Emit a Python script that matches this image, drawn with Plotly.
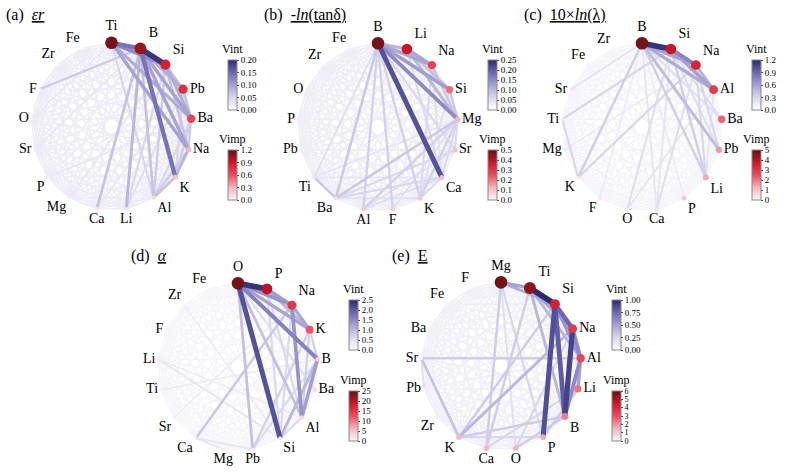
import math
import plotly.graph_objects as go
from plotly.colors import sample_colorscale

W, H = 794, 476
RX_PX, RY_PX = 80.0, 83.7   # circle radii in pixels (slightly oval in the reference)
HALF_PX = 110.0             # half size of each panel square in pixels
FONT = "Liberation Serif"

VINT_SCALE = [[0.0, "#ffffff"], [0.25, "#d9d7ec"], [0.5, "#a6a2d2"],
              [0.75, "#6d67b2"], [1.0, "#2b2970"]]
VIMP_SCALE = [[0.0, "#fff6f6"], [0.25, "#f7b3bb"], [0.5, "#ee4b5d"],
              [0.75, "#cf1528"], [1.0, "#641313"]]

# ---------------- panel (a) eps_r ----------------
A_NODES = ["Ti", "B", "Si", "Pb", "Ba", "Na", "K", "Al", "Li", "Ca", "Mg",
           "P", "Sr", "O", "F", "Zr", "Fe"]
A_VIMP = [1.15, 1.05, 0.85, 0.75, 0.65, 0.30, 0.25, 0.15, 0.10, 0.08, 0.06,
          0.05, 0.04, 0.03, 0.02, 0.01, 0.01]
A_EDGES = [("B", "Si", 0.19), ("Ti", "B", 0.14), ("Ti", "Si", 0.12),
           ("B", "K", 0.14), ("Ti", "Na", 0.10), ("Ti", "Ba", 0.09),
           ("B", "Na", 0.10), ("B", "Ba", 0.10), ("B", "Pb", 0.09),
           ("Si", "Ba", 0.09), ("Si", "Pb", 0.07), ("Pb", "Ba", 0.07),
           ("Si", "Na", 0.07), ("Na", "K", 0.08), ("K", "Al", 0.07),
           ("Na", "Al", 0.06), ("Ba", "K", 0.06), ("Ba", "Na", 0.06),
           ("Pb", "K", 0.05), ("B", "Li", 0.08), ("B", "Ca", 0.07),
           ("B", "Al", 0.07), ("Si", "Al", 0.06), ("B", "F", 0.06),
           ("Si", "Li", 0.05), ("Ti", "Al", 0.05), ("Ba", "Al", 0.05),
           ("Li", "Pb", 0.04), ("O", "Ti", 0.03), ("Sr", "B", 0.03),
           ("P", "Ba", 0.03), ("Mg", "Si", 0.03), ("Ca", "Pb", 0.03)]
A_WEAK = 0.022
A_VINT_RANGE = [0.0, 0.20]
A_VINT_TICKS = [0.00, 0.05, 0.10, 0.15, 0.20]
A_VIMP_RANGE = [0.0, 1.2]
A_VIMP_TICKS = [0.0, 0.3, 0.6, 0.9, 1.2]

# ---------------- panel (b) -ln(tan d) ----------------
B_NODES = ["B", "Li", "Na", "Si", "Mg", "Sr", "Ca", "K", "F", "Al", "Ba",
           "Ti", "Pb", "P", "O", "Zr", "Fe"]
B_VIMP = [0.48, 0.38, 0.27, 0.21, 0.12, 0.10, 0.10, 0.09, 0.08, 0.08, 0.05,
          0.04, 0.03, 0.03, 0.02, 0.01, 0.01]
B_EDGES = [("B", "Ca", 0.21), ("B", "Mg", 0.15), ("B", "Na", 0.12),
           ("B", "Si", 0.13), ("Li", "Na", 0.12), ("B", "Li", 0.10),
           ("Li", "Mg", 0.10), ("Li", "Si", 0.09), ("Na", "Mg", 0.08),
           ("Si", "Mg", 0.08), ("B", "Ba", 0.08), ("B", "Al", 0.07),
           ("B", "F", 0.07), ("B", "K", 0.07), ("B", "Ti", 0.05),
           ("B", "Sr", 0.06), ("Ti", "Ba", 0.08), ("Mg", "Ba", 0.08),
           ("Mg", "Al", 0.07), ("Mg", "K", 0.07), ("Mg", "Sr", 0.06),
           ("Mg", "Ca", 0.06), ("Sr", "Ba", 0.06), ("Ca", "Ba", 0.06),
           ("Ca", "K", 0.06), ("Na", "K", 0.06), ("Si", "K", 0.05),
           ("Li", "Ca", 0.06), ("Na", "Ca", 0.05), ("Sr", "Al", 0.05),
           ("K", "Ba", 0.05), ("Al", "Ca", 0.05), ("F", "Mg", 0.05),
           ("Ti", "Mg", 0.04), ("Ti", "Ca", 0.04)]
B_WEAK = 0.027
B_VINT_RANGE = [0.0, 0.25]
B_VINT_TICKS = [0.00, 0.05, 0.10, 0.15, 0.20, 0.25]
B_VIMP_RANGE = [0.0, 0.5]
B_VIMP_TICKS = [0.0, 0.1, 0.2, 0.3, 0.4, 0.5]

# ---------------- panel (c) 10 x ln(lambda) ----------------
C_NODES = ["B", "Si", "Na", "Al", "Ba", "Pb", "Li", "P", "Ca", "O", "F",
           "K", "Mg", "Ti", "Sr", "Fe", "Zr"]
C_VIMP = [4.8, 3.8, 3.4, 2.9, 2.2, 1.6, 1.4, 0.9, 0.4, 0.4, 0.3, 0.3, 0.3,
          0.2, 0.2, 0.1, 0.05]
C_EDGES = [("B", "Si", 1.15), ("Si", "Na", 0.75), ("B", "Na", 0.60),
           ("Si", "Al", 0.60), ("B", "Al", 0.55), ("Na", "Al", 0.50),
           ("B", "Pb", 0.45), ("B", "Li", 0.35), ("Si", "Li", 0.35),
           ("Na", "Li", 0.30), ("Na", "Pb", 0.30), ("B", "K", 0.35),
           ("Si", "Ti", 0.30), ("K", "Ti", 0.30), ("K", "Na", 0.30),
           ("B", "Ba", 0.25), ("Si", "Ba", 0.25), ("Si", "Pb", 0.25),
           ("O", "Si", 0.25), ("Ca", "Na", 0.25), ("Ca", "B", 0.20),
           ("O", "Al", 0.20), ("Ca", "Si", 0.20), ("Sr", "B", 0.20),
           ("P", "B", 0.15), ("Li", "Al", 0.20), ("Mg", "Na", 0.15),
           ("F", "B", 0.15)]
C_WEAK = 0.085
C_VINT_RANGE = [0.0, 1.2]
C_VINT_TICKS = [0.0, 0.3, 0.6, 0.9, 1.2]
C_VIMP_RANGE = [0.0, 5.0]
C_VIMP_TICKS = [0, 1, 2, 3, 4, 5]

# ---------------- panel (d) alpha ----------------
D_NODES = ["O", "P", "Na", "K", "B", "Ba", "Al", "Si", "Pb", "Mg", "Ca",
           "Sr", "Ti", "Li", "F", "Zr", "Fe"]
D_VIMP = [24.0, 20.0, 15.0, 12.0, 4.0, 3.0, 3.0, 1.5, 1.0, 1.0, 1.0, 0.8,
          0.6, 0.5, 0.5, 0.3, 0.2]
D_EDGES = [("O", "P", 2.4), ("O", "Si", 2.1), ("O", "B", 1.6),
           ("O", "Na", 1.4), ("P", "Na", 1.3), ("Na", "K", 1.2),
           ("O", "K", 1.2), ("Na", "Al", 1.4), ("B", "Al", 1.3),
           ("B", "Si", 1.0), ("P", "K", 1.0), ("O", "Al", 0.9),
           ("O", "Pb", 0.9), ("Na", "Ca", 0.8), ("K", "Pb", 0.7),
           ("K", "Al", 0.7), ("P", "Al", 0.6), ("Na", "Si", 0.6),
           ("P", "Si", 0.6), ("B", "Pb", 0.6), ("Al", "Si", 0.6),
           ("K", "B", 0.7), ("O", "Ba", 0.5), ("Li", "Si", 0.4),
           ("Li", "Al", 0.3), ("Ca", "Mg", 0.4), ("Ca", "Pb", 0.4),
           ("Zr", "Si", 0.3), ("Sr", "Na", 0.3), ("Ti", "B", 0.3)]
D_WEAK = 0.16
D_VINT_RANGE = [0.0, 2.5]
D_VINT_TICKS = [0.0, 0.5, 1.0, 1.5, 2.0, 2.5]
D_VIMP_RANGE = [0.0, 25.0]
D_VIMP_TICKS = [0, 5, 10, 15, 20, 25]

# ---------------- panel (e) E ----------------
E_NODES = ["Mg", "Ti", "Si", "Na", "Al", "Li", "B", "P", "O", "Ca", "K",
           "Zr", "Pb", "Sr", "Ba", "Fe", "F"]
E_VIMP = [5.8, 5.4, 4.2, 3.5, 3.2, 2.5, 2.3, 1.6, 1.5, 1.4, 1.4, 0.3, 0.2,
          0.2, 0.2, 0.1, 0.05]
E_EDGES = [("Ti", "Si", 1.0), ("Na", "B", 0.9), ("Si", "P", 0.85),
           ("Si", "B", 0.8), ("Si", "Na", 0.75), ("Na", "Al", 0.6),
           ("Al", "B", 0.6), ("Al", "Li", 0.5), ("Mg", "Ti", 0.5),
           ("Mg", "Si", 0.45), ("Ti", "Na", 0.5), ("Si", "Al", 0.55),
           ("Ti", "Al", 0.4), ("Ti", "B", 0.4), ("Mg", "Ca", 0.3),
           ("Sr", "K", 0.35), ("Sr", "Al", 0.3), ("K", "Na", 0.4),
           ("K", "Si", 0.3), ("Mg", "P", 0.25), ("Mg", "O", 0.2),
           ("Ti", "Ca", 0.3), ("P", "Li", 0.3), ("B", "O", 0.3),
           ("B", "K", 0.3), ("P", "K", 0.25), ("Ca", "Li", 0.25),
           ("O", "Na", 0.25), ("Sr", "Pb", 0.2)]
E_WEAK = 0.095
E_VINT_RANGE = [0.0, 1.0]
E_VINT_TICKS = [0.00, 0.25, 0.50, 0.75, 1.00]
E_VIMP_RANGE = [0.0, 6.0]
E_VIMP_TICKS = [0, 1, 2, 3, 4, 5, 6]

TITLES = ["(a)  <u><i>εr</i></u>",
          "(b)  <u><i>-ln</i>(tanδ)</u>",
          "(c)  <u>10×<i>ln</i>(λ)</u>",
          "(d)  <u><i>α</i></u>",
          "(e)  <u>E</u>"]

PANELS = [
    dict(nodes=A_NODES, vimp=A_VIMP, edges=A_EDGES, weak=A_WEAK,
         vint_rng=A_VINT_RANGE, vint_ticks=A_VINT_TICKS, vint_fmt=".2f",
         vimp_rng=A_VIMP_RANGE, vimp_ticks=A_VIMP_TICKS, vimp_fmt=".1f",
         center=(111.5, 126.5), cbx=228, cby=(60, 150), title_xy=(4, 15)),
    dict(nodes=B_NODES, vimp=B_VIMP, edges=B_EDGES, weak=B_WEAK,
         vint_rng=B_VINT_RANGE, vint_ticks=B_VINT_TICKS, vint_fmt=".2f",
         vimp_rng=B_VIMP_RANGE, vimp_ticks=B_VIMP_TICKS, vimp_fmt=".1f",
         center=(378, 127), cbx=488, cby=(60, 150), title_xy=(262, 15)),
    dict(nodes=C_NODES, vimp=C_VIMP, edges=C_EDGES, weak=C_WEAK,
         vint_rng=C_VINT_RANGE, vint_ticks=C_VINT_TICKS, vint_fmt=".1f",
         vimp_rng=C_VIMP_RANGE, vimp_ticks=C_VIMP_TICKS, vimp_fmt="d",
         center=(642, 127), cbx=752, cby=(60, 150), title_xy=(522, 15)),
    dict(nodes=D_NODES, vimp=D_VIMP, edges=D_EDGES, weak=D_WEAK,
         vint_rng=D_VINT_RANGE, vint_ticks=D_VINT_TICKS, vint_fmt=".1f",
         vimp_rng=D_VIMP_RANGE, vimp_ticks=D_VIMP_TICKS, vimp_fmt="d",
         center=(238, 367), cbx=349, cby=(300, 391), title_xy=(129, 256)),
    dict(nodes=E_NODES, vimp=E_VIMP, edges=E_EDGES, weak=E_WEAK,
         vint_rng=E_VINT_RANGE, vint_ticks=E_VINT_TICKS, vint_fmt=".2f",
         vimp_rng=E_VIMP_RANGE, vimp_ticks=E_VIMP_TICKS, vimp_fmt="d",
         center=(501, 366), cbx=612, cby=(300, 391), title_xy=(390, 256)),
]

BAR_LEN = 50
BAR_THICK = 9

fig = go.Figure()
layout = dict(width=W, height=H,
              margin=dict(l=0, r=0, t=0, b=0, pad=0, autoexpand=False),
              paper_bgcolor="white", plot_bgcolor="white", showlegend=False,
              font=dict(family=FONT, color="black"))
annotations = []


def x_axis_span(c):
    lo, hi = max(0.0, c - HALF_PX), min(float(W), c + HALF_PX)
    return [lo / W, hi / W], [(lo - c) / RX_PX, (hi - c) / RX_PX]


def y_axis_span(c):
    lo, hi = max(0.0, c - HALF_PX), min(float(H), c + HALF_PX)
    return [1 - hi / H, 1 - lo / H], [-(hi - c) / RY_PX, (c - lo) / RY_PX]


def colorbar(x_px, top_px, ticks, fmt, fsize):
    return dict(x=x_px / W, xanchor="left", xpad=0,
                y=1 - (top_px + BAR_LEN / 2) / H, yanchor="middle", ypad=0,
                len=BAR_LEN, lenmode="pixels", thickness=BAR_THICK,
                outlinewidth=1, outlinecolor="#888888",
                tickvals=ticks, tickformat=fmt, ticks="outside",
                ticklen=2, tickwidth=1, tickcolor="#444444",
                tickfont=dict(family=FONT, size=fsize))


def cb_title(text, x_px, top_px):
    return dict(text=text, x=(x_px + BAR_THICK / 2) / W, y=1 - (top_px - 2) / H,
                xref="paper", yref="paper", xanchor="center",
                yanchor="bottom", showarrow=False,
                font=dict(family=FONT, size=12, color="black"))


def label_position(phi):
    """phi: clockwise angle from the top, radians."""
    s, c = math.sin(phi), math.cos(phi)
    hpos = "center" if abs(s) < 0.2 else ("right" if s > 0 else "left")
    vpos = "top" if c > 0.5 else ("bottom" if c < -0.5 else "middle")
    return f"{vpos} {hpos}"


for i, p in enumerate(PANELS):
    k = i + 1
    xa = "x" if k == 1 else f"x{k}"
    ya = "y" if k == 1 else f"y{k}"
    cx, cy = p["center"]
    xdom, xrng = x_axis_span(cx)
    ydom, yrng = y_axis_span(cy)
    layout["xaxis" if k == 1 else f"xaxis{k}"] = dict(
        domain=xdom, range=xrng, visible=False, fixedrange=True, anchor=ya)
    layout["yaxis" if k == 1 else f"yaxis{k}"] = dict(
        domain=ydom, range=yrng, visible=False, fixedrange=True, anchor=xa)

    nodes = p["nodes"]
    n = len(nodes)
    phis = [2 * math.pi * j / n for j in range(n)]
    px = {nm: math.sin(f) for nm, f in zip(nodes, phis)}
    py = {nm: math.cos(f) for nm, f in zip(nodes, phis)}

    strong = {}
    for s, d, v in p["edges"]:
        strong[frozenset((s, d))] = v
    pairs = []
    for a_i in range(n):
        for b_i in range(a_i + 1, n):
            key = frozenset((nodes[a_i], nodes[b_i]))
            pairs.append((nodes[a_i], nodes[b_i], strong.get(key, p["weak"])))
    pairs.sort(key=lambda t: t[2])

    vmin, vmax = p["vint_rng"]
    ca_int = f"coloraxis{2 * i + 1}" if 2 * i + 1 > 1 else "coloraxis"
    ca_imp = f"coloraxis{2 * i + 2}"
    for s, d, v in pairs:
        t = max(0.0, min(1.0, (v - vmin) / (vmax - vmin)))
        col = sample_colorscale(VINT_SCALE, [t])[0]
        fig.add_trace(go.Scatter(
            x=[px[s], px[d]], y=[py[s], py[d]], mode="lines",
            line=dict(color=col, width=1.1 + 4.6 * t),
            xaxis=xa, yaxis=ya, hoverinfo="skip", showlegend=False))

    # colorbar carrier for Vint
    fig.add_trace(go.Scatter(
        x=[0, 0], y=[0, 0], mode="markers",
        marker=dict(color=[vmin, vmax], coloraxis=ca_int, size=1, opacity=0),
        xaxis=xa, yaxis=ya, hoverinfo="skip", showlegend=False))

    imin, imax = p["vimp_rng"]
    sizes = [3.0 + 10.0 * (v - imin) / (imax - imin) for v in p["vimp"]]
    fig.add_trace(go.Scatter(
        x=[px[nm] for nm in nodes], y=[py[nm] for nm in nodes],
        mode="markers+text", text=nodes,
        textposition=[label_position(f) for f in phis],
        textfont=dict(family=FONT, size=14, color="black"),
        marker=dict(color=p["vimp"], coloraxis=ca_imp, size=sizes,
                    opacity=1, line=dict(width=0)),
        xaxis=xa, yaxis=ya, hoverinfo="skip", showlegend=False,
        cliponaxis=False))

    imp_fs = 8 if len(p["vimp_ticks"]) > 6 else 9
    layout[ca_int] = dict(cmin=vmin, cmax=vmax, colorscale=VINT_SCALE,
                          colorbar=colorbar(p["cbx"], p["cby"][0],
                                            p["vint_ticks"], p["vint_fmt"], 9))
    layout[ca_imp] = dict(cmin=imin, cmax=imax, colorscale=VIMP_SCALE,
                          colorbar=colorbar(p["cbx"], p["cby"][1],
                                            p["vimp_ticks"], p["vimp_fmt"],
                                            imp_fs))
    annotations.append(cb_title("Vint", p["cbx"], p["cby"][0]))
    annotations.append(cb_title("Vimp", p["cbx"], p["cby"][1]))

    tx, ty = p["title_xy"]
    annotations.append(dict(text=TITLES[i], x=tx / W, y=1 - ty / H,
                            xref="paper", yref="paper", xanchor="left",
                            yanchor="middle", showarrow=False,
                            font=dict(family=FONT, size=16, color="black")))

layout["annotations"] = annotations
fig.update_layout(**layout)
fig.write_html("out.html",
               config={"displayModeBar": False, "staticPlot": True},
               post_script="document.body.style.margin='0';"
                           "document.body.style.overflow='hidden';")
